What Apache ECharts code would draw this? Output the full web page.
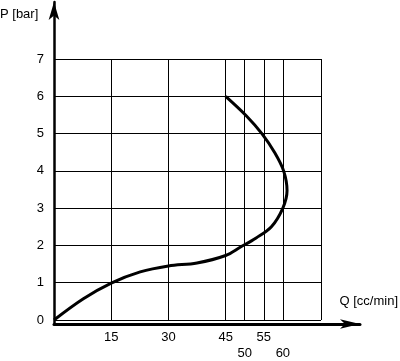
<!DOCTYPE html>
<html>
<head>
<meta charset="utf-8">
<script src="https://cdn.jsdelivr.net/npm/echarts@6/dist/echarts.min.js"></script>
<style>html,body{margin:0;padding:0;background:#fff}#c{width:400px;height:361px}</style>
</head>
<body>
<div id="c"></div>
<script>
// Curve data: flow Q [cc/min] vs pressure P [bar]
const qValues = [0, 7.7, 15, 22.6, 30, 37.5, 45, 48.8, 53, 57, 60, 61.1, 60.2, 57.8, 54.5, 50.4, 45];
const pValues = [0, 0.57, 0.99, 1.29, 1.45, 1.53, 1.73, 1.95, 2.2, 2.5, 3.0, 3.47, 4.0, 4.5, 5.0, 5.48, 6.0];
const xLabelValues = [15, 30, 45, 50, 55, 60];
const xGridValues = [15, 30, 45, 50, 55, 60, 70];
const xLowerRow = [50, 60];
const yTickValues = [0, 1, 2, 3, 4, 5, 6, 7];
const xName = 'Q [cc/min]';
const yName = 'P [bar]';

const font = 'Liberation Sans, Arial, sans-serif';
const chart = echarts.init(document.getElementById('c'), null, {renderer: 'canvas'});
chart.setOption({
  animation: false,
  backgroundColor: '#fff',
  title: [
    {text: yName, left: 0, top: 8, padding: 0, textStyle: {fontFamily: font, fontSize: 13, fontWeight: 'normal', color: '#000'}},
    {text: xName, right: 2, top: 295, padding: 0, textStyle: {fontFamily: font, fontSize: 13, fontWeight: 'normal', color: '#000'}}
  ],
  grid: [
    {left: 54, top: 59, width: 267, height: 266},
    {left: 54, top: 2, right: 40, bottom: 37}
  ],
  xAxis: [
    {
      type: 'value', gridIndex: 0, min: 0, max: 70,
      axisLine: {show: false},
      axisTick: {show: false, customValues: xGridValues},
      axisLabel: {
        customValues: xLabelValues,
        margin: 9,
        fontFamily: font, fontSize: 13, color: '#000', lineHeight: 16, verticalAlign: 'top',
        formatter: v => xLowerRow.includes(v) ? '\n' + v : String(v)
      },
      splitLine: {show: true, lineStyle: {color: '#000', width: 1}}
    },
    {
      type: 'value', gridIndex: 1, min: 0, max: 1,
      axisLine: {show: true, symbol: ['none', 'arrow'], symbolSize: [7, 20], lineStyle: {color: '#000', width: 3}},
      axisTick: {show: false}, axisLabel: {show: false}, splitLine: {show: false}
    }
  ],
  yAxis: [
    {
      type: 'value', gridIndex: 0, min: 0, max: 7, interval: 1,
      axisLine: {show: false},
      axisTick: {show: false},
      axisLabel: {margin: 10, fontFamily: font, fontSize: 13, color: '#000',
        formatter: v => yTickValues.includes(v) ? String(v) : ''},
      splitLine: {show: true, lineStyle: {color: '#000', width: 1}}
    },
    {
      type: 'value', gridIndex: 1, min: 0, max: 1,
      axisLine: {show: true, symbol: ['none', 'arrow'], symbolSize: [8, 18], lineStyle: {color: '#000', width: 2.5}},
      axisTick: {show: false}, axisLabel: {show: false}, splitLine: {show: false}
    }
  ],
  series: [{
    type: 'line',
    xAxisIndex: 0, yAxisIndex: 0,
    data: qValues.map((q, i) => [q, pValues[i]]),
    smooth: 0.35,
    showSymbol: false,
    clip: false,
    lineStyle: {color: '#000', width: 3}
  }]
});
</script>
</body>
</html>
